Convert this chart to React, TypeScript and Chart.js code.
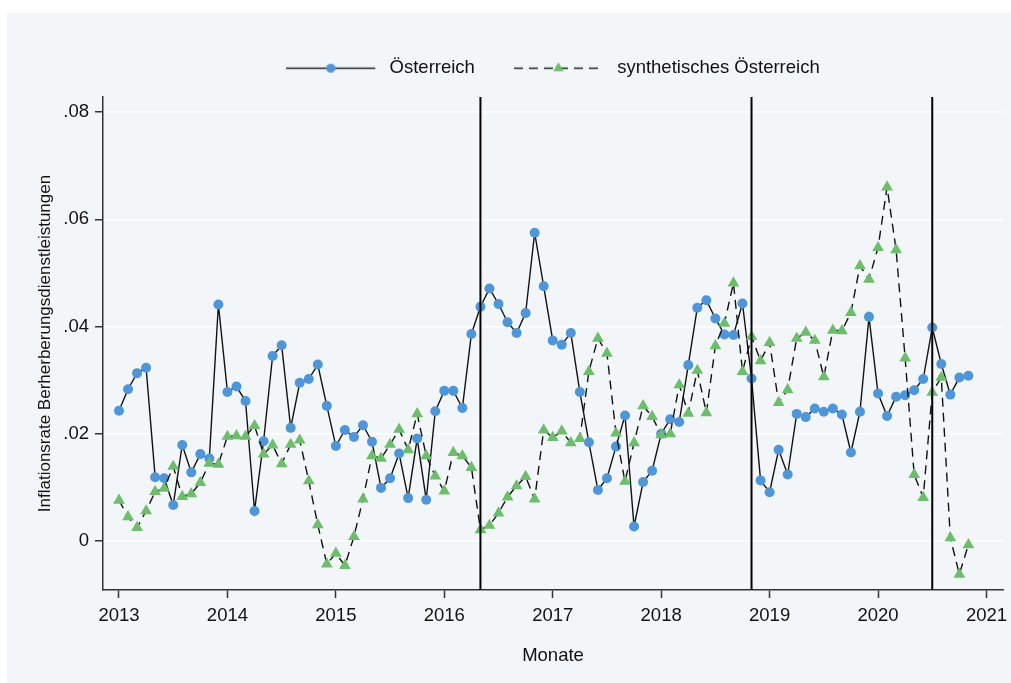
import React, { useEffect, useRef } from 'react';
import { Chart, registerables } from 'chart.js';

Chart.register(...registerables);

const START_YEAR = 2013;

// Monthly values, Jan 2013 .. Nov 2020
const osterreich = [
  0.0243, 0.0283, 0.0313, 0.0323, 0.0119, 0.0117, 0.0067, 0.0179, 0.0128, 0.0162, 0.0154, 0.0441,
  0.0278, 0.0288, 0.0261, 0.0056, 0.0186, 0.0345, 0.0365, 0.0211, 0.0295, 0.0302, 0.0329, 0.0252,
  0.0177, 0.0207, 0.0194, 0.0216, 0.0185, 0.0099, 0.0117, 0.0163, 0.0080, 0.0191, 0.0077, 0.0242,
  0.0280, 0.0280, 0.0248, 0.0386, 0.0437, 0.0471, 0.0442, 0.0408, 0.0388, 0.0425, 0.0575, 0.0475,
  0.0374, 0.0366, 0.0388, 0.0278, 0.0184, 0.0095, 0.0117, 0.0176, 0.0234, 0.0027, 0.0110, 0.0131,
  0.0200, 0.0227, 0.0222, 0.0328, 0.0435, 0.0449, 0.0415, 0.0385, 0.0384, 0.0443, 0.0303, 0.0113,
  0.0091, 0.0170, 0.0124, 0.0237, 0.0231, 0.0247, 0.0241, 0.0247, 0.0236, 0.0165, 0.0241, 0.0418,
  0.0275, 0.0233, 0.0269, 0.0272, 0.0281, 0.0302, 0.0398, 0.0330, 0.0273, 0.0305, 0.0308,
];

const synthetischesOsterreich = [
  0.0076, 0.0045, 0.0025, 0.0056, 0.0092, 0.0098, 0.0139, 0.0083, 0.0088, 0.0109, 0.0145, 0.0143,
  0.0195, 0.0196, 0.0195, 0.0215, 0.0162, 0.0179, 0.0144, 0.0180, 0.0188, 0.0112, 0.0030, -0.0043,
  -0.0023, -0.0046, 0.0008, 0.0078, 0.0159, 0.0154, 0.0180, 0.0208, 0.0170, 0.0237, 0.0159, 0.0121,
  0.0093, 0.0165, 0.0159, 0.0137, 0.0021, 0.0029, 0.0052, 0.0082, 0.0103, 0.0120, 0.0078, 0.0207,
  0.0193, 0.0205, 0.0183, 0.0191, 0.0316, 0.0378, 0.0350, 0.0201, 0.0111, 0.0183, 0.0252, 0.0232,
  0.0198, 0.0200, 0.0291, 0.0238, 0.0318, 0.0239, 0.0364, 0.0406, 0.0481, 0.0316, 0.0381, 0.0336,
  0.0370, 0.0258, 0.0282, 0.0378, 0.0389, 0.0374, 0.0306, 0.0393, 0.0392, 0.0426, 0.0513, 0.0488,
  0.0547, 0.0660, 0.0543, 0.0341, 0.0124, 0.0081, 0.0277, 0.0305, 0.0006, -0.0062, -0.0007,
];

const seriesLabels = ['Österreich', 'synthetisches Österreich'];
const yearTicks = [2013, 2014, 2015, 2016, 2017, 2018, 2019, 2020, 2021];
const yTicks = [0, 0.02, 0.04, 0.06, 0.08];
const interventionDates = ['2016-05', '2018-11', '2020-07'];
const yTitle = 'Inflationsrate Berherberungsdienstleistungen';
const xTitle = 'Monate';

const FONT = '"Liberation Sans", Arial, Helvetica, sans-serif';
const BLUE = '#4f96d8';
const GREEN = '#6dbd6d';
const AXIS = '#333333';
const TEXT = '#111111';

const monthIndex = (s: string) => {
  const [y, m] = s.split('-').map(Number);
  return (y - START_YEAR) * 12 + (m - 1);
};

const fmtY = (v: number) => (Math.abs(v) < 1e-9 ? '0' : v.toFixed(2).replace(/^0/, '').replace(/^-0/, '-'));

function makeLegendImage(kind: 'solid' | 'dashed'): HTMLCanvasElement {
  const c = document.createElement('canvas');
  c.width = 94;
  c.height = 22;
  const ctx = c.getContext('2d')!;
  const cy = 11.5;
  ctx.strokeStyle = '#222';
  ctx.lineWidth = 1.6;
  if (kind === 'dashed') ctx.setLineDash([9, 6]);
  ctx.beginPath();
  ctx.moveTo(0, cy);
  ctx.lineTo(89, cy);
  ctx.stroke();
  ctx.setLineDash([]);
  if (kind === 'solid') {
    ctx.fillStyle = BLUE;
    ctx.beginPath();
    ctx.arc(44.5, cy, 4.6, 0, Math.PI * 2);
    ctx.fill();
  } else {
    ctx.fillStyle = GREEN;
    const r = 6;
    ctx.beginPath();
    ctx.moveTo(44.5, cy - r);
    ctx.lineTo(44.5 + r * 0.866, cy + r * 0.5);
    ctx.lineTo(44.5 - r * 0.866, cy + r * 0.5);
    ctx.closePath();
    ctx.fill();
  }
  return c;
}

const interventionPlugin = {
  id: 'interventions',
  afterDatasetsDraw(chart: any) {
    const { ctx, chartArea, scales } = chart;
    ctx.save();
    ctx.strokeStyle = '#000';
    ctx.lineWidth = 2;
    interventionDates.forEach((d) => {
      const x = scales.x.getPixelForValue(monthIndex(d));
      ctx.beginPath();
      ctx.moveTo(x, chartArea.top);
      ctx.lineTo(x, chartArea.bottom);
      ctx.stroke();
    });
    ctx.restore();
  },
};

export default function App() {
  const ref = useRef<HTMLCanvasElement>(null);

  useEffect(() => {
    const legendImages = [makeLegendImage('solid'), makeLegendImage('dashed')];
    const toPoints = (arr: number[]) => arr.map((v, i) => ({ x: i, y: v }));

    const chart = new Chart(ref.current!, {
      type: 'line',
      data: {
        datasets: [
          {
            label: seriesLabels[0],
            data: toPoints(osterreich),
            borderColor: '#111',
            borderWidth: 1.4,
            pointStyle: 'circle',
            pointRadius: 5,
            pointBackgroundColor: BLUE,
            pointBorderWidth: 0,
            pointBorderColor: BLUE,
            tension: 0,
            order: 1,
          },
          {
            label: seriesLabels[1],
            data: toPoints(synthetischesOsterreich),
            borderColor: '#111',
            borderWidth: 1.4,
            borderDash: [9, 6],
            pointStyle: 'triangle',
            pointRadius: 6.8,
            pointBackgroundColor: GREEN,
            pointBorderWidth: 0,
            pointBorderColor: GREEN,
            tension: 0,
            order: 0,
          },
        ],
      },
      options: {
        responsive: false,
        animation: false,
        events: [],
        layout: { padding: { top: 6.5, right: 8, bottom: 0, left: 0 } },
        scales: {
          x: {
            type: 'linear',
            min: -1.77,
            max: 97.83,
            afterBuildTicks: (s: any) => {
              s.ticks = yearTicks.map((y) => ({ value: (y - START_YEAR) * 12 }));
            },
            ticks: {
              callback: (v: any) => String(START_YEAR + Math.round(Number(v) / 12)),
              font: { family: FONT, size: 18.5 },
              color: TEXT,
              padding: 7,
              maxRotation: 0,
              autoSkip: false,
            },
            grid: { color: 'rgba(0,0,0,0)', tickColor: AXIS, tickLength: 8, tickWidth: 1.5 },
            border: { color: AXIS, width: 1.5 },
            title: {
              display: true,
              text: xTitle,
              font: { family: FONT, size: 18.5 },
              color: TEXT,
              padding: { top: 0, bottom: 16 },
            },
            afterFit: (s: any) => {
              s.height = 93;
              s.paddingLeft = 0;
              s.paddingRight = 0;
            },
          },
          y: {
            type: 'linear',
            min: -0.00914,
            max: 0.0828,
            afterBuildTicks: (s: any) => {
              s.ticks = yTicks.map((v) => ({ value: v }));
            },
            ticks: {
              callback: (v: any) => fmtY(Number(v)),
              font: { family: FONT, size: 18.5 },
              color: TEXT,
              padding: 6,
            },
            grid: { color: '#ffffff', lineWidth: 1.5, tickColor: AXIS, tickLength: 8, tickWidth: 1.5 },
            border: { color: AXIS, width: 1.5 },
            title: {
              display: true,
              text: yTitle,
              font: { family: FONT, size: 17 },
              color: TEXT,
              padding: { top: 28, bottom: 0 },
            },
            afterFit: (s: any) => {
              s.width = 96;
              s.paddingTop = 0;
              s.paddingBottom = 0;
            },
          },
        },
        plugins: {
          tooltip: { enabled: false },
          // empty spacer between legend and plot region
          subtitle: {
            display: true,
            text: '',
            position: 'top',
            weight: 500,
            fullSize: false,
            padding: 0,
            font: { size: 10, lineHeight: 1 },
          },
          legend: {
            display: true,
            position: 'top',
            fullSize: false,
            labels: {
              usePointStyle: true,
              pointStyleWidth: 94,
              padding: 39,
              font: { family: FONT, size: 18.5 },
              color: TEXT,
              generateLabels: (ch: any) =>
                ch.data.datasets.map((ds: any, i: number) => ({
                  text: ds.label,
                  pointStyle: legendImages[i],
                  fillStyle: 'rgba(0,0,0,0)',
                  strokeStyle: 'rgba(0,0,0,0)',
                  lineWidth: 0,
                  hidden: false,
                  datasetIndex: i,
                  fontColor: TEXT,
                })),
            },
          },
        },
      },
      plugins: [interventionPlugin],
    } as any);

    return () => chart.destroy();
  }, []);

  return (
    <div
      style={{
        position: 'fixed',
        left: 7,
        top: 13,
        width: 1004,
        height: 670,
        background: '#f3f6f8',
        overflow: 'hidden',
      }}
    >
      <canvas ref={ref} width={1004} height={670} style={{ display: 'block' }} />
    </div>
  );
}
